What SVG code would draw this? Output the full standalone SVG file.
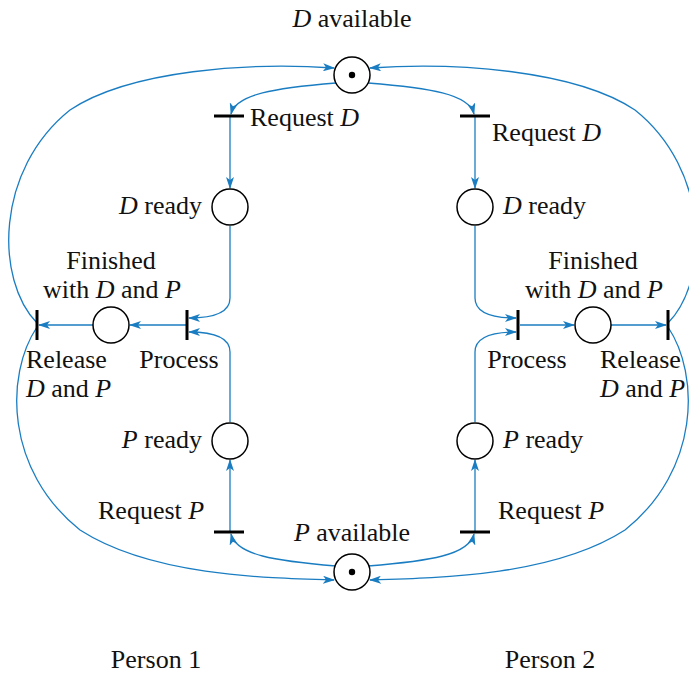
<svg xmlns="http://www.w3.org/2000/svg" width="689" height="673" viewBox="0 0 689 673">
<defs>
<marker id="ah" viewBox="0 0 12 8" refX="11" refY="4" markerWidth="12" markerHeight="8" markerUnits="userSpaceOnUse" orient="auto">
<path d="M0,0 L12,4 L0,8 L3,4 Z" fill="#1a7dc2"/>
</marker>
</defs>
<style>
.c{fill:none;stroke:#1a7dc2;stroke-width:1.3}
.a{marker-end:url(#ah)}
.p{fill:#fff;stroke:#000;stroke-width:1.5}
.t{stroke:#000;stroke-width:3}
text{font-family:"Liberation Serif","Times New Roman",serif;font-size:26px;fill:#111}
.i{font-style:italic}
</style>
<rect width="689" height="673" fill="#fff"/>
<g id="connectors">
<path class="c a" d="M336,83 C275,88 236,94 231,114"/>
<path class="c a" d="M368,83 C430,88 469,94 474,114"/>
<path class="c a" d="M230,117 L230,188"/>
<path class="c a" d="M475,117 L475,188"/>
<path class="c a" d="M230,226 L230,298 Q230,318 189,318"/>
<path class="c a" d="M230,422 L230,352 Q230,332 189,332"/>
<path class="c a" d="M475,226 L475,298 Q475,318 516,318"/>
<path class="c a" d="M475,422 L475,352 Q475,332 516,332"/>
<path class="c a" d="M186,325 L130,325"/>
<path class="c a" d="M93,325 L39,325"/>
<path class="c a" d="M520,325 L574,325"/>
<path class="c a" d="M611,325 L666,325"/>
<path class="c a" d="M230,531 L230,460"/>
<path class="c a" d="M475,531 L475,460"/>
<path class="c a" d="M336,566 C275,561 236,555 231,534"/>
<path class="c a" d="M368,566 C430,561 469,555 474,534"/>
<path class="c a" d="M37,323 C-5,280 -5,170 70,110 C130,70 250,62 334,68"/>
<path class="c a" d="M37,327 C5,375 5,470 80,530 C150,575 260,578 334,580"/>
<path class="c a" d="M668,323 C710,280 710,170 635,110 C575,70 455,62 370,68"/>
<path class="c a" d="M668,327 C700,375 700,470 625,530 C555,575 445,578 370,580"/>
</g>
<g id="D_available"><circle class="p" cx="352" cy="75" r="18"/><circle cx="352" cy="75" r="3.2"/><text x="352" y="27" text-anchor="middle"><tspan class="i">D</tspan> available</text></g>
<g id="P_available"><circle class="p" cx="352" cy="572" r="18"/><circle cx="352" cy="572" r="3.2"/><text x="352" y="541" text-anchor="middle"><tspan class="i">P</tspan> available</text></g>
<g id="Request_D_1"><line class="t" x1="214" y1="116" x2="244" y2="116"/><text x="250" y="126">Request <tspan class="i">D</tspan></text></g>
<g id="Request_D_2"><line class="t" x1="460" y1="116" x2="490" y2="116"/><text x="492" y="141">Request <tspan class="i">D</tspan></text></g>
<g id="D_ready_1"><circle class="p" cx="230" cy="207" r="18"/><text x="202" y="214" text-anchor="end"><tspan class="i">D</tspan> ready</text></g>
<g id="D_ready_2"><circle class="p" cx="475" cy="207" r="18"/><text x="503" y="214"><tspan class="i">D</tspan> ready</text></g>
<g id="Process_1"><line class="t" x1="187" y1="310" x2="187" y2="340"/><text x="179" y="368" text-anchor="middle">Process</text></g>
<g id="Process_2"><line class="t" x1="518" y1="310" x2="518" y2="340"/><text x="527" y="368" text-anchor="middle">Process</text></g>
<g id="Finished_1"><circle class="p" cx="111" cy="325" r="18"/><text x="111" y="269" text-anchor="middle">Finished</text><text x="112" y="298" text-anchor="middle">with <tspan class="i">D</tspan> and <tspan class="i">P</tspan></text></g>
<g id="Finished_2"><circle class="p" cx="593" cy="325" r="18"/><text x="593" y="269" text-anchor="middle">Finished</text><text x="594" y="298" text-anchor="middle">with <tspan class="i">D</tspan> and <tspan class="i">P</tspan></text></g>
<g id="Release_1"><line class="t" x1="37" y1="310" x2="37" y2="340"/><text x="26" y="368">Release</text><text x="26" y="397"><tspan class="i">D</tspan> and <tspan class="i">P</tspan></text></g>
<g id="Release_2"><line class="t" x1="668" y1="310" x2="668" y2="340"/><text x="600" y="368">Release</text><text x="600" y="397"><tspan class="i">D</tspan> and <tspan class="i">P</tspan></text></g>
<g id="P_ready_1"><circle class="p" cx="230" cy="441" r="18"/><text x="202" y="448" text-anchor="end"><tspan class="i">P</tspan> ready</text></g>
<g id="P_ready_2"><circle class="p" cx="475" cy="441" r="18"/><text x="503" y="448"><tspan class="i">P</tspan> ready</text></g>
<g id="Request_P_1"><line class="t" x1="214" y1="532" x2="244" y2="532"/><text x="98" y="519">Request <tspan class="i">P</tspan></text></g>
<g id="Request_P_2"><line class="t" x1="460" y1="532" x2="490" y2="532"/><text x="498" y="519">Request <tspan class="i">P</tspan></text></g>
<g id="labels"><text x="156" y="668" text-anchor="middle">Person 1</text><text x="550" y="668" text-anchor="middle">Person 2</text></g>
</svg>
